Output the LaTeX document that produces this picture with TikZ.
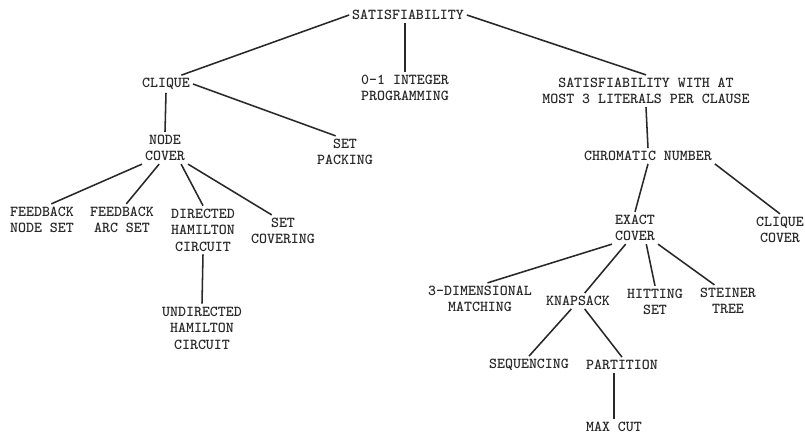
\documentclass[tikz,border=0pt]{standalone}
\usepackage{tikz}
\usetikzlibrary{positioning}
\definecolor{inkgray}{RGB}{40,40,40}

\begin{document}
\begin{tikzpicture}[x = 0.025cm, y = -0.025cm,
                prob/.style = {font = \ttfamily\bfseries\fontsize{10.8}{11.7}\selectfont, text = inkgray, align = center, inner sep = 2pt},
                link/.style = {draw = inkgray, line width = 1.1pt}]
                \useasboundingbox (0,0) rectangle (805,436);
                \node[prob] (sat) at (408,15) {SATISFIABILITY};
                \node[prob] (clique) at (166,84) {CLIQUE};
                \node[prob] (ilp) at (405,88) {0-1 INTEGER\\PROGRAMMING};
                \node[prob] (sat3) at (646,91) {SATISFIABILITY WITH AT\\MOST 3 LITERALS PER CLAUSE};
                \node[prob] (nodecover) at (165,148) {NODE\\COVER};
                \node[prob] (setpack) at (345,152) {SET\\PACKING};
                \node[prob] (chromatic) at (648,156) {CHROMATIC NUMBER};
                \node[prob] (fns) at (42,220) {FEEDBACK\\NODE SET};
                \node[prob] (fas) at (122,220) {FEEDBACK\\ARC SET};
                \node[prob] (dhc) at (203,230) {DIRECTED\\HAMILTON\\CIRCUIT};
                \node[prob] (setcov) at (283,231) {SET\\COVERING};
                \node[prob] (uhc) at (202,328) {UNDIRECTED\\HAMILTON\\CIRCUIT};
                \node[prob] (exact) at (635,228) {EXACT\\COVER};
                \node[prob] (cliquecover) at (780,230) {CLIQUE\\COVER};
                \node[prob] (tdm) at (480,299) {3-DIMENSIONAL\\MATCHING};
                \node[prob] (knap) at (578,301) {KNAPSACK};
                \node[prob] (hit) at (655,302) {HITTING\\SET};
                \node[prob] (steiner) at (728,301) {STEINER\\TREE};
                \node[prob] (seq) at (529,365) {SEQUENCING};
                \node[prob] (part) at (622,365) {PARTITION};
                \node[prob] (maxcut) at (614,427) {MAX CUT};
                \draw[link] (sat.west) -- (clique.30);
                \draw[link] (ilp.north) -- (ilp.north |- sat.south);
                \draw[link] (sat.east) -- (sat3.north);
                \draw[link] (clique.south) -- (nodecover.north);
                \draw[link] (clique.east) -- (setpack.120);
                \draw[link] (nodecover.south west) -- (fns.60);
                \draw[link] (nodecover.250) -- (fas.75);
                \draw[link] (nodecover.315) -- (dhc.north);
                \draw[link] (nodecover.south east) -- (setcov.125);
                \draw[link] (dhc.south) -- (uhc.north);
                \draw[link] (sat3.south) -- (chromatic.north);
                \draw[link] (chromatic.south) -- (exact.north);
                \draw[link] (chromatic.south east) -- (cliquecover.north);
                \draw[link] (exact.south west) -- (tdm.65);
                \draw[link] (exact.240) -- (knap.50);
                \draw[link] (exact.305) -- (hit.north);
                \draw[link] (exact.south east) -- (steiner.130);
                \draw[link] (knap.230) -- (seq.north);
                \draw[link] (knap.310) -- (part.north);
                \draw[link] (maxcut.north) -- (maxcut.north |- part.south);
              \end{tikzpicture}
\end{document}
